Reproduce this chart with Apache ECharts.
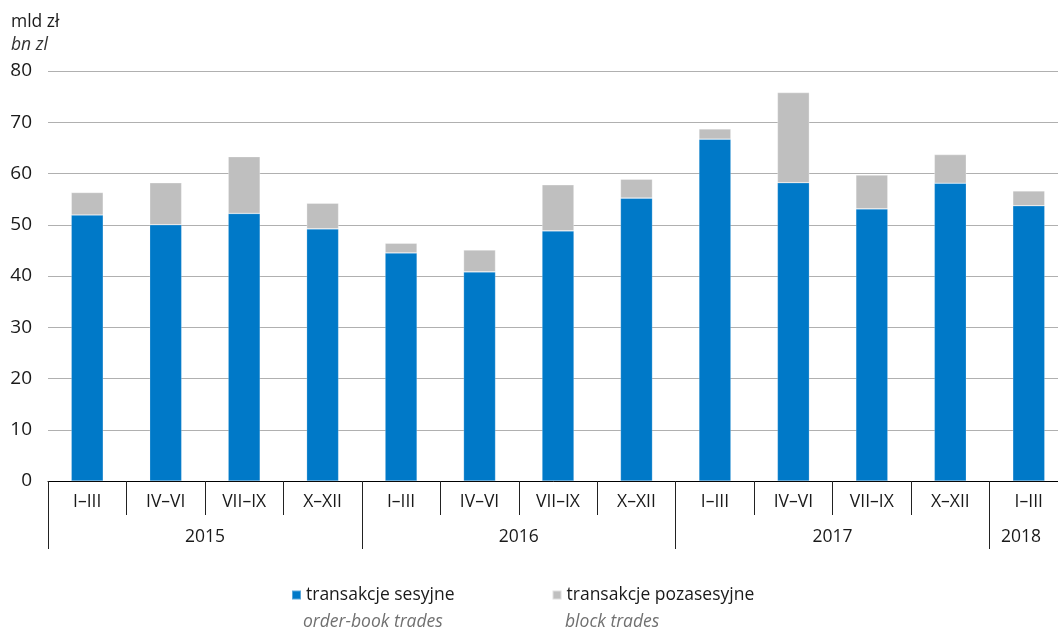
<!DOCTYPE html>
<html>
<head>
<meta charset="utf-8">
<script src="https://cdn.jsdelivr.net/npm/echarts@6/dist/echarts.min.js"></script>
<style>
html,body{margin:0;padding:0;background:#fff;}
#chart{width:1058px;height:629px;}
</style>
</head>
<body>
<div id="chart"></div>
<script>
var quarters = ['I–III','IV–VI','VII–IX','X–XII','I–III','IV–VI','VII–IX','X–XII','I–III','IV–VI','VII–IX','X–XII','I–III'];
var years = ['2015','2016','2017','2018'];
var yearBoundaries = [0, 4, 8, 12];
var yearCenters = [2, 6, 10, 12.4];
var orderBook = [51.9, 50.0, 52.2, 49.2, 44.5, 40.8, 48.8, 55.2, 66.7, 58.2, 53.1, 58.1, 53.7];
var blockTrades = [4.4, 8.2, 11.1, 5.0, 1.9, 4.3, 9.0, 3.7, 2.0, 17.6, 6.6, 5.6, 2.9];
var seriesNames = ['transakcje sesyjne', 'transakcje pozasesyjne'];
var seriesNamesEn = ['order-book trades', 'block trades'];

var FONT = '"Open Sans", sans-serif';
var chart = echarts.init(document.getElementById('chart'), null, {renderer: 'canvas'});

var option = {
  animation: false,
  textStyle: {fontFamily: FONT},
  grid: {left: 48, top: 71, bottom: 148, width: 1020, containLabel: false, outerBoundsMode: 'none'},
  legend: {
    left: 286, top: 581,
    itemWidth: 9, itemHeight: 9, itemGap: 97,
    icon: 'rect',
    textStyle: {fontFamily: FONT, fontSize: 17.5, color: '#1a1a1a'},
    data: seriesNames
  },
  graphic: [
    {type: 'text', x: 11, y: 13, style: {text: 'mld zł', font: '17.5px ' + FONT, fill: '#1a1a1a'}},
    {type: 'text', x: 11, y: 36, style: {text: 'bn zl', font: 'italic 17.5px ' + FONT, fill: '#333'}},
    {type: 'text', x: 303, y: 613, style: {text: seriesNamesEn[0], font: 'italic 17.5px ' + FONT, fill: '#707070'}},
    {type: 'text', x: 565, y: 613, style: {text: seriesNamesEn[1], font: 'italic 17.5px ' + FONT, fill: '#707070'}}
  ],
  xAxis: [
    {
      type: 'category',
      data: quarters,
      position: 'bottom',
      axisLine: {show: true, lineStyle: {color: '#000', width: 1}},
      axisTick: {show: true, length: 34, interval: 0, lineStyle: {color: '#222', width: 1}},
      axisLabel: {interval: 0, margin: 12, fontSize: 17.5, color: '#1a1a1a', fontFamily: FONT},
      splitLine: {show: false}
    },
    {
      type: 'value',
      min: 0, max: 13,
      position: 'bottom',
      axisLine: {show: false},
      axisTick: {show: true, length: 68, customValues: yearBoundaries, lineStyle: {color: '#222', width: 1}},
      axisLabel: {
        show: true, margin: 47, fontSize: 17.5, color: '#1a1a1a', fontFamily: FONT,
        customValues: yearCenters,
        formatter: function (v) {
          var i = yearCenters.indexOf(v);
          return i >= 0 ? years[i] : '';
        }
      },
      splitLine: {show: false}
    }
  ],
  yAxis: {
    type: 'value',
    min: 0, max: 80, interval: 10,
    axisLine: {show: false},
    axisTick: {show: false},
    axisLabel: {fontSize: 19, color: '#1a1a1a', margin: 16, fontFamily: FONT},
    splitLine: {lineStyle: {color: '#b0b0b0', width: 1.2}}
  },
  series: [
    {
      name: seriesNames[0], type: 'bar', stack: 'total', xAxisIndex: 0,
      barWidth: 32,
      itemStyle: {color: '#0079c8', borderColor: 'rgba(255,255,255,0.35)', borderWidth: 0.6},
      data: orderBook
    },
    {
      name: seriesNames[1], type: 'bar', stack: 'total', xAxisIndex: 0,
      barWidth: 32,
      itemStyle: {color: '#bfbfbf', borderColor: 'rgba(255,255,255,0.5)', borderWidth: 0.6},
      data: blockTrades
    }
  ]
};
chart.setOption(option);
</script>
</body>
</html>
